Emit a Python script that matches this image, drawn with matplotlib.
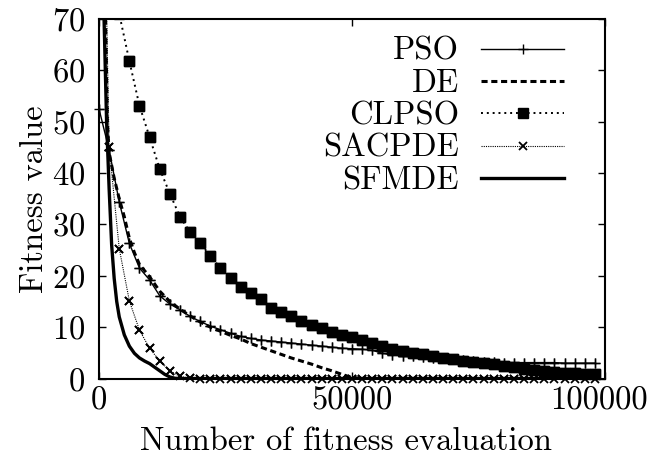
import numpy as np
import matplotlib
matplotlib.use("Agg")
import matplotlib.pyplot as plt
from matplotlib.transforms import ScaledTranslation

plt.rcParams["font.family"] = ["cmr10", "DejaVu Serif"]
plt.rcParams["axes.formatter.use_mathtext"] = True
plt.rcParams["axes.unicode_minus"] = False

FS = 23.5
YMAX = 70

# evaluations at which the marker-based series were sampled
evals = np.arange(0, 100000, 2000)

pso = [52.5, 44.5, 34.4, 26.3, 21.5, 19.2, 16.1, 14.5, 13.4, 12.1,
       11.1, 10.2, 9.5, 8.8, 8.2, 7.8, 7.5, 7.3, 7.1, 6.9,
       6.7, 6.5, 6.3, 6.1, 5.9, 5.8, 5.7, 5.5, 4.9, 4.6,
       4.4, 4.3, 4.2, 4.0, 3.9, 3.8, 3.6, 3.4, 3.3, 3.2,
       3.1, 3.1, 3.1, 3.1, 3.1, 3.1, 3.0, 3.0, 3.0, 3.0]

clpso = [120.0, 95.0, 71.0, 61.8, 53.1, 47.0, 40.8, 36.0, 31.5, 28.5,
         26.3, 23.9, 21.5, 19.6, 17.9, 16.6, 15.4, 13.7, 12.9, 12.1,
         11.2, 10.5, 9.8, 9.1, 8.5, 8.0, 7.5, 7.0, 6.4, 5.8,
         5.4, 5.0, 4.7, 4.4, 4.05, 3.7, 3.5, 3.3, 3.1, 2.8,
         2.4, 2.2, 1.85, 1.65, 1.45, 1.2, 1.1, 1.0, 0.95, 0.8]

sacpde = [150.0, 45.1, 25.3, 15.1, 9.4, 5.9, 3.4, 1.5, 0.4, 0.05,
          0.0, 0.0, 0.0, 0.0, 0.0, 0.0, 0.0, 0.0, 0.0, 0.0,
          0.0, 0.0, 0.0, 0.0, 0.0, 0.0, 0.0, 0.0, 0.0, 0.0,
          0.0, 0.0, 0.0, 0.0, 0.0, 0.0, 0.0, 0.0, 0.0, 0.0,
          0.0, 0.0, 0.0, 0.0, 0.0, 0.0, 0.0, 0.0, 0.0, 0.0]

de_evals = [0, 1000, 1300, 1650, 2000, 3000, 4000, 5000, 6000, 7000,
            8000, 10000, 12000, 14000, 16000, 18000, 20000, 22000, 24000, 26000,
            28000, 30000, 32000, 34000, 36000, 38000, 40000, 42000, 44000, 46000,
            48000, 50000, 52000, 98000]
de = [130.0, 82.0, 70.0, 50.0, 44.0, 39.0, 35.0, 31.5, 27.3, 24.5,
      22.2, 19.8, 17.0, 15.0, 13.5, 12.2, 11.0, 10.0, 9.2, 8.4,
      7.7, 6.8, 6.1, 5.4, 4.7, 4.0, 3.4, 2.8, 2.1, 1.5,
      0.8, 0.2, 0.0, 0.0]

sfmde_evals = [0, 1000, 1500, 2000, 2500, 3000, 3500, 4000, 5000, 6000,
               7000, 8000, 9000, 10000, 11000, 12000, 13000, 14000, 15000, 16000,
               98000]
sfmde = [160.0, 70.0, 50.0, 37.0, 26.0, 19.5, 15.0, 12.0, 8.5, 6.3,
         4.9, 4.0, 3.4, 2.9, 2.2, 1.5, 0.8, 0.3, 0.05, 0.0,
         0.0]

xtick_vals = [0, 50000, 100000]
xtick_labels = ["0", "50000", "100000"]

fig = plt.figure(figsize=(6.51, 4.61), dpi=100)
ax = fig.add_axes([99 / 651, 1 - 378.5 / 461, 506 / 651, 359.5 / 461])


def marked(x, y, **kw):
    """Line clipped to the axes, point symbols drawn whole on the border."""
    ax.plot(x, y, **kw)
    x = np.asarray(x)
    y = np.asarray(y)
    inside = y <= YMAX
    pts = {k: v for k, v in kw.items() if k in ("color", "marker", "ms", "mew")}
    ax.plot(x[inside], y[inside], ls="none", clip_on=False, **pts)


marked(evals, pso, color="black", lw=1.0, marker="+", ms=7, mew=1.0,
       label="PSO")
ax.plot(de_evals, de, color="black", lw=2.2, ls=(0, (2.0, 1.2)),
        label="DE")
marked(evals, clpso, color="black", lw=1.4, ls=(0, (1, 2)), marker="s",
       ms=6.5, label="CLPSO")
marked(evals, sacpde, color="black", lw=0.8, ls=(0, (1, 1)), marker="x",
       ms=6, mew=1.3, label="SACPDE")
ax.plot(sfmde_evals, sfmde, color="black", lw=2.4, label="SFMDE")

ax.set_xlim(0, 100000)
ax.set_ylim(0, YMAX)
ax.set_xticks(xtick_vals)
ax.set_xticklabels(xtick_labels)
ax.set_yticks(range(0, 71, 10))
ax.tick_params(direction="in", length=5, width=1.0, top=True, right=True,
               labelsize=FS)
ax.tick_params(axis="y", pad=10)
ax.tick_params(axis="x", pad=6)
for s in ax.spines.values():
    s.set_linewidth(1.5)

# keep the rightmost tick label inside the canvas
last = ax.get_xticklabels()[-1]
last.set_transform(last.get_transform()
                   + ScaledTranslation(-6 / 100, 0, fig.dpi_scale_trans))

ax.set_xlabel("Number of fitness evaluation", fontsize=FS)
ax.xaxis.set_label_coords(0.488, -0.135)
ax.set_ylabel("Fitness value", fontsize=FS, labelpad=2)

leg = ax.legend(loc="upper right", bbox_to_anchor=(0.955, 1.0),
                frameon=False, markerfirst=False, fontsize=FS,
                handlelength=2.55, handletextpad=0.68, labelspacing=0.1,
                borderaxespad=0.15)

fig.savefig("out.png", dpi=100)
